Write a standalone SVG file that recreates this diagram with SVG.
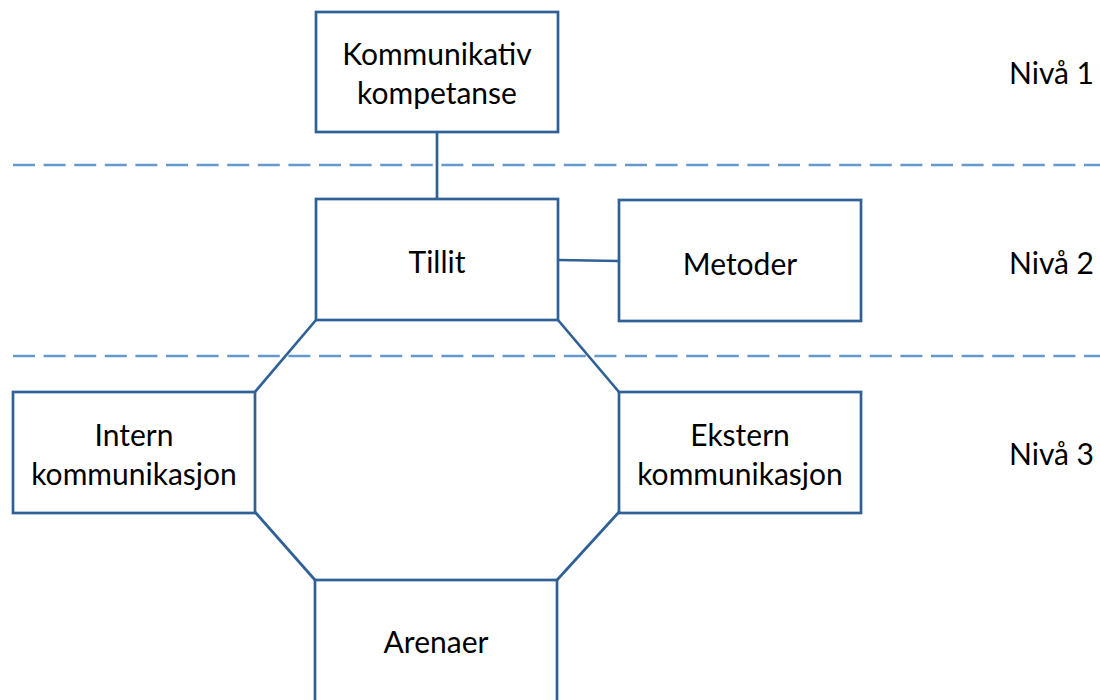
<svg xmlns="http://www.w3.org/2000/svg" width="1100" height="700" viewBox="0 0 1100 700">
<style>
.box{fill:#fff;stroke:#2f6096;stroke-width:2.7}
.con{fill:none;stroke:#2f6096;stroke-width:2.7}
.dash{fill:none;stroke:#6599cc;stroke-width:2.7;stroke-dasharray:22 8.6}
text{font-family:Lato,"Open Sans",sans-serif;font-size:30px;fill:#000;text-anchor:middle}
.lvl{text-anchor:start}
</style>
<rect width="1100" height="700" fill="#fff"/>
<g id="levels">
<line class="dash" x1="13" y1="165" x2="1100" y2="165"/>
<line class="dash" x1="13" y1="356" x2="1100" y2="356"/>
<text class="lvl" x="1009" y="84">Nivå 1</text>
<text class="lvl" x="1009" y="274">Nivå 2</text>
<text class="lvl" x="1009" y="465">Nivå 3</text>
</g>
<g id="connectors">
<line class="con" x1="437" y1="132" x2="437" y2="199"/>
<line class="con" x1="558" y1="260" x2="619" y2="261"/>
<line class="con" x1="316" y1="320" x2="255" y2="392"/>
<line class="con" x1="558" y1="320" x2="619" y2="392"/>
<line class="con" x1="255" y1="512" x2="315" y2="580"/>
<line class="con" x1="619" y1="512" x2="557" y2="580"/>
</g>
<g id="kompetanse">
<rect class="box" x="316" y="12" width="242" height="120"/>
<text x="437" y="65">Kommunikativ</text>
<text x="437" y="104">kompetanse</text>
</g>
<g id="tillit">
<rect class="box" x="316" y="199" width="242" height="121"/>
<text x="437" y="273">Tillit</text>
</g>
<g id="metoder">
<rect class="box" x="619" y="200" width="242" height="121"/>
<text x="740" y="275">Metoder</text>
</g>
<g id="intern">
<rect class="box" x="13" y="392" width="242" height="121"/>
<text x="134" y="446">Intern</text>
<text x="134" y="485">kommunikasjon</text>
</g>
<g id="ekstern">
<rect class="box" x="619" y="392" width="242" height="121"/>
<text x="740" y="446">Ekstern</text>
<text x="740" y="485">kommunikasjon</text>
</g>
<g id="arenaer">
<rect class="box" x="315" y="580" width="242" height="130"/>
<text x="436" y="653">Arenaer</text>
</g>
</svg>
